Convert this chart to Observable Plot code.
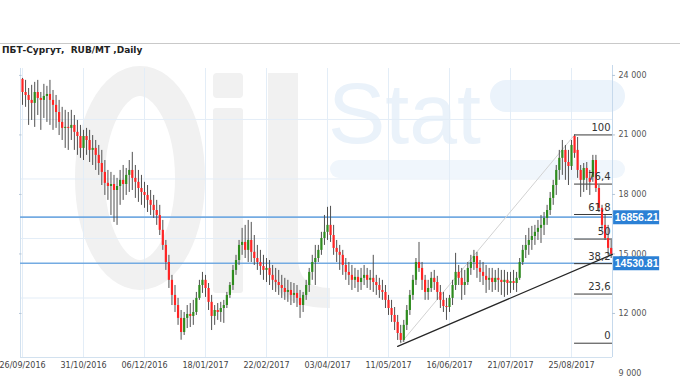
<!DOCTYPE html>
<html><head><meta charset="utf-8">
<script src="https://cdn.jsdelivr.net/npm/d3@7"></script>
<script src="https://cdn.jsdelivr.net/npm/@observablehq/plot@0.6"></script>
<style>
html,body{margin:0;padding:0;background:#fff;}
#wrap{position:relative;width:680px;height:380px;overflow:hidden;}
#wm{position:absolute;left:0;top:0;}
#chart{position:absolute;left:0;top:0;}
#topline{position:absolute;left:0;top:43px;width:680px;height:1px;background:#c9c9c9;}
#title{position:absolute;left:2px;top:45px;font-family:"DejaVu Sans",Verdana,sans-serif;font-weight:bold;font-size:9px;color:#222;white-space:pre;}
</style></head><body>
<div id="wrap">
<svg id="wm" width="680" height="380">
  <ellipse cx="140" cy="178" rx="50" ry="97" fill="none" stroke="#f1f1f1" stroke-width="30"/>
  <rect x="213" y="73" width="30" height="25" rx="4" fill="#f1f1f1"/>
  <rect x="213" y="108" width="30" height="185" rx="3" fill="#f1f1f1"/>
  <path d="M268,73 h30 v185 q0,30 32,30 v20 q-62,0 -62,-50 z" fill="#f1f1f1"/>
  <text x="328" y="143" font-family="Liberation Sans, Arial, sans-serif" font-size="86" fill="#eaf2fa">Stat</text>
  <rect x="490" y="80" width="135" height="32" rx="16" fill="#ebf3fb"/>
  <rect x="330" y="160" width="295" height="18" rx="9" fill="#f0f6fc"/>
</svg>
<div id="topline"></div>
<div id="title">ПБТ-Сургут,  RUB/MT ,Daily</div>
<div id="chart"></div>
</div>
<script>
// ---- data ----
const xTickIndex = [0, 20, 40, 60, 80, 100, 120, 140, 160, 180];
const xTickLabels = ["26/09/2016","31/10/2016","06/12/2016","18/01/2017","22/02/2017","03/04/2017","11/05/2017","16/06/2017","21/07/2017","25/08/2017"];
const yTicks = [9000, 12000, 15000, 18000, 21000, 24000];
const gridValues = [21780, 18780, 15780, 12780];

const opens = [
23800,23140,22990,22740,22590,23140,22840,22740,22940,23040,
22740,22490,22130,21630,21330,21380,21330,21480,21130,20920,
20320,20920,20720,20220,20320,19970,19560,19110,18560,18400,
18500,18200,18400,18710,18500,18960,19210,18810,18610,18300,
18100,17950,17700,17450,17190,16940,16190,15430,14570,13670,
12910,12400,11750,11040,11750,11950,11850,12050,12760,13410,
13670,13260,12560,11850,12150,12050,12250,12400,12910,13410,
14170,14670,15430,15580,15180,15680,15080,14770,14570,14370,
14170,14270,13920,13670,13560,13410,13260,13060,13160,12910,
13010,12760,12400,12910,13410,14070,14570,14770,15180,15780,
16090,16440,15930,15280,15080,14930,14420,14070,13920,13670,
13820,13560,13770,13920,13670,13770,13560,13410,13160,13060,
12660,12250,11900,11550,10990,10640,11400,12150,12910,13670,
14570,14270,13670,13060,13260,13770,13560,13060,12660,12350,
12300,12760,13410,14070,13770,13410,13560,14270,14570,14870,
14270,14070,13870,13670,13770,13560,13770,13670,13560,13670,
13510,13610,13510,13770,14570,15180,15430,15680,15880,16090,
16290,16440,16790,17190,17800,18450,19210,19820,20220,19610,
19410,20920,20220,19210,18710,19310,18810,18860,19710,18300,
17300,16440,15780,15280];
const highs = [
23850,23750,23340,23500,23650,23750,23140,23550,23450,23750,
23240,22990,22740,22390,22240,22130,22240,21980,21730,21480,
21230,21330,21230,20970,20720,20470,20220,19710,19210,19110,
18960,18810,19210,19460,19310,19710,20120,19460,19210,18960,
18610,18450,18200,17950,17700,17450,16690,15680,14930,13920,
13410,12760,12150,12050,12400,12500,12660,13060,13670,14070,
13920,13510,12910,12400,12500,12560,12660,13060,13560,14420,
14930,15680,16290,16440,16690,16590,15930,15430,15180,14930,
14770,14670,14420,14270,14170,13920,13770,13670,13560,13510,
13410,13160,13060,13670,14270,14930,15430,15430,16090,16940,
17350,17400,16440,15680,15430,15180,14770,14570,14420,14270,
14170,14270,14420,14270,14170,14930,13920,13770,13670,13410,
12910,12660,12300,11900,11400,11650,12400,13160,13920,14770,
15580,14570,13920,13670,14070,14170,13870,13410,13060,12760,
12910,13670,15030,14420,14270,14170,14570,14930,15180,15080,
14670,14570,14420,14270,14270,14170,14270,14170,14170,14070,
14070,14170,14070,14770,15430,15930,16290,16390,16440,16690,
16940,17090,17450,18100,18710,19460,20220,20720,20470,20220,
20720,21000,20870,19460,19560,19610,19210,19970,19970,18450,
17450,16940,16440,15680];
const lows = [
22490,22390,21480,21730,21380,21980,21230,21830,21630,21480,
21230,21330,20970,20720,20320,20220,20720,20220,19970,19820,
19710,19970,19610,19460,19210,18960,18450,17950,17700,16940,
16590,16440,17450,17700,17950,18100,18200,17800,17600,17450,
17300,17090,16940,16790,16440,15930,15180,14170,13260,12400,
12050,11400,10650,10890,11240,11290,11400,11900,12660,13010,
12810,12150,11140,11400,11650,11550,11500,12250,12760,13160,
13920,14420,14930,14770,14570,14570,14420,14170,13920,13670,
13560,13410,13160,13060,12910,12760,12660,12560,12400,12500,
12300,11750,12050,12660,13060,13670,13410,14570,14930,15430,
15680,15580,14930,14570,14170,13920,13670,13410,13160,13260,
13060,13160,13410,13260,13160,13060,12910,12760,12660,12250,
11900,11550,11140,10640,10500,10540,11140,11900,12660,13410,
14070,13160,12660,12660,13060,13160,12660,12250,12050,11650,
12050,12400,13160,13410,12660,12910,13410,13920,14170,13770,
13560,13410,13010,13160,13060,13160,13060,12910,12810,12910,
13010,13160,13060,13670,14420,14770,14930,15180,15430,15680,
15530,15930,16440,16940,17450,17950,18710,18960,18710,18450,
19210,19820,18810,17850,18100,18200,17950,18610,18100,17090,
16190,15680,14930,14770];
const closes = [
23140,22990,22740,22590,23140,22840,22740,22940,23040,22740,
22490,22130,21630,21330,21380,21330,21480,21130,20920,20320,
20920,20720,20220,20320,19970,19560,19110,18560,18400,18500,
18200,18400,18710,18500,18960,19210,18810,18610,18300,18100,
17950,17700,17450,17190,16940,16190,15430,14570,13670,12910,
12400,11750,11040,11750,11950,11850,12050,12760,13410,13670,
13260,12560,11850,12150,12050,12250,12400,12910,13410,14170,
14670,15430,15580,15180,15680,15080,14770,14570,14370,14170,
14270,13920,13670,13560,13410,13260,13060,13160,12910,13010,
12760,12400,12910,13410,14070,14570,14770,15180,15780,16090,
16440,15930,15280,15080,14930,14420,14070,13920,13670,13820,
13560,13770,13920,13670,13770,13560,13410,13160,13060,12660,
12250,11900,11550,10990,10640,11400,12150,12910,13670,14570,
14270,13670,13060,13260,13770,13560,13060,12660,12350,12300,
12760,13410,14070,13770,13410,13560,14270,14570,14870,14270,
14070,13870,13670,13770,13560,13770,13670,13560,13670,13510,
13610,13510,13770,14570,15180,15430,15680,15880,16090,16290,
16440,16790,17190,17800,18450,19210,19820,20220,19610,19410,
20470,20070,19210,18710,19310,18810,18610,19710,18300,17300,
16440,15780,15280,14980];

const levelValues = [16856.21, 14530.81];
const fibLow = 10500, fibHigh = 21000;
const fibPercents = [0, 23.6, 38.2, 50, 61.8, 76.4, 100];
const fibLabels = ["0", "23,6", "38,2", "50", "61,8", "76,4", "100"];
const fibStartIndex = 181;
const swingX = [124, 181];
const swingY = [10500, 21000];
const trendX = [123, 193.4];
const trendY = [10340, 14980];

// ---- build ----
const bars = opens.map((o, i) => ({i, o, h: highs[i], l: lows[i], c: closes[i]}));
const xMin = -0.66, xMax = 193.44;
const yMin = 9780, yMax = 24500;
const fib = fibPercents.map((p, k) => ({v: fibLow + p / 100 * (fibHigh - fibLow), label: fibLabels[k]}));
const fmt = d => d3.format(",")(d).replace(/,/g, " ");
const gridC = "#e3edf7", frameC = "#d2e1ef";
const RED = "#ff2424", GREEN = "#2e8c1e";
const font = "DejaVu Sans, Verdana, sans-serif";

const chart = Plot.plot({
  width: 680, height: 380,
  marginLeft: 20, marginRight: 68, marginTop: 65, marginBottom: 23,
  x: {domain: [xMin, xMax], axis: null},
  y: {domain: [yMin, yMax], axis: null},
  style: {background: "transparent", overflow: "visible", fontFamily: font},
  marks: [
    Plot.ruleX(xTickIndex, {x: d => d, y1: yMin, y2: yMax - 150, stroke: gridC}),
    Plot.ruleY(gridValues, {y: d => d, x1: xMin, x2: xMax, stroke: gridC}),
    Plot.ruleX([xMin], {x: d => d, y1: yMin, y2: yMax - 150, stroke: frameC}),
    Plot.ruleX([xMax], {x: d => d, y1: yMin, y2: yMax, stroke: "#c6d9ec"}),
    Plot.ruleY([yMin], {y: d => d, x1: xMin, x2: xMax, stroke: frameC}),
    Plot.ruleY(yTicks.filter(d => d >= yMin), {y: d => d, x1: xMin - 0.3, x2: xMin + 0.5, stroke: "#b5c6d8"}),
    Plot.ruleY(yTicks.filter(d => d >= yMin), {y: d => d, x1: xMax, x2: xMax + 1.0, stroke: "#b5c6d8"}),
    Plot.ruleY(levelValues, {y: d => d, x1: xMin, x2: xMax, stroke: "#74abe2", strokeWidth: 1.6}),
    Plot.line(swingX.map((x, k) => ({x, y: swingY[k]})), {x: "x", y: "y", stroke: "#d2d2d2", strokeWidth: 1}),
    Plot.ruleY(fib, {y: "v", x1: fibStartIndex, x2: xMax, stroke: "#3a3a3a", strokeWidth: 1}),
    Plot.ruleX(bars, {x: "i", y1: "l", y2: "h", stroke: "#505050", strokeWidth: 1}),
    Plot.ruleX(bars, {x: "i", y1: "o", y2: "c", stroke: d => d.c >= d.o ? GREEN : RED, strokeWidth: 2.2}),
    Plot.line(trendX.map((x, k) => ({x, y: trendY[k]})), {x: "x", y: "y", stroke: "#262626", strokeWidth: 1.2}),
    Plot.text(fib, {y: "v", x: xMax, text: "label", textAnchor: "end", dx: -2, dy: -7, fontSize: 10, fill: "#333"}),
    Plot.text(yTicks, {y: d => d, text: fmt, frameAnchor: "right", textAnchor: "start", dx: 6, fontSize: 8, fill: "#555"}),
    Plot.text(xTickIndex, {x: d => d, text: (d, k) => xTickLabels[k], frameAnchor: "bottom", dy: 10, fontSize: 8, fill: "#444"}),
    Plot.ruleY(levelValues, {y: d => d, x1: 193.8, x2: 208.9, stroke: "#2b80d5", strokeWidth: 14}),
    Plot.text(levelValues, {y: d => d, x: 201.35, text: d => d.toFixed(2), fill: "white", fontWeight: "bold", fontSize: 10.5, fontFamily: "Liberation Sans, Arial, sans-serif"})
  ]
});
document.getElementById("chart").appendChild(chart);
</script>
</body></html>
